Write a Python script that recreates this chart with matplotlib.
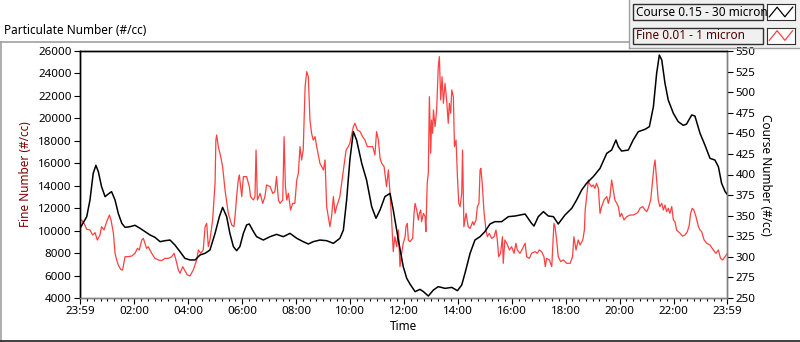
import numpy as np
import matplotlib.pyplot as plt
from matplotlib.patches import Rectangle
from matplotlib.lines import Line2D

# hours elapsed since the 23:59 start of the record
course_hours = [
    0.00, 0.25, 0.37, 0.49, 0.59, 0.68, 0.80, 0.93, 1.05, 1.17, 1.30, 1.42,
    1.55, 1.67, 1.85, 2.04, 2.23, 2.41, 2.60, 2.78, 2.97, 3.15, 3.34, 3.52,
    3.71, 3.89, 4.08, 4.27, 4.45, 4.64, 4.82, 5.01, 5.17, 5.29, 5.44, 5.56,
    5.69, 5.81, 5.93, 6.06, 6.18, 6.28, 6.40, 6.55, 6.80, 7.05, 7.29, 7.54,
    7.79, 8.04, 8.28, 8.47, 8.65, 8.90, 9.15, 9.40, 9.64, 9.77, 9.89, 10.01,
    10.14, 10.26, 10.45, 10.63, 10.82, 10.98, 11.13, 11.31, 11.50, 11.62,
    11.81, 11.99, 12.12, 12.24, 12.43, 12.61, 12.74, 12.92, 13.11, 13.29,
    13.54, 13.79, 14.00, 14.16, 14.28, 14.47, 14.65, 14.84, 15.02, 15.21,
    15.39, 15.64, 15.89, 16.14, 16.51, 16.75, 16.84, 17.00, 17.19, 17.37,
    17.56, 17.74, 17.99, 18.24, 18.42, 18.61, 18.79, 19.04, 19.29, 19.54,
    19.72, 19.88, 19.97, 20.09, 20.34, 20.52, 20.71, 20.96, 21.12, 21.27,
    21.39, 21.49, 21.58, 21.70, 21.82, 22.01, 22.19, 22.38, 22.50, 22.69,
    22.81, 23.00, 23.18, 23.37, 23.55, 23.68, 23.80, 23.93, 24.00,
]
course_counts = [
    334.6, 348.8, 369.0, 401.4, 411.1, 403.4, 385.2, 373.1, 376.3, 379.2,
    369.0, 352.8, 340.7, 335.8, 336.6, 338.3, 334.6, 330.6, 326.5, 323.7,
    318.4, 319.6, 320.4, 314.4, 306.3, 298.2, 296.2, 296.2, 302.2, 304.3,
    308.3, 328.5, 348.8, 360.1, 348.8, 328.5, 312.4, 307.5, 312.4, 328.5,
    338.7, 339.9, 332.6, 324.5, 320.4, 324.5, 327.3, 324.5, 328.5, 322.5,
    318.4, 315.6, 318.4, 320.4, 319.6, 316.4, 322.5, 332.6, 369.0, 417.6,
    452.0, 441.9, 413.6, 393.3, 360.9, 346.8, 356.9, 373.1, 377.1, 356.9,
    320.4, 288.1, 273.9, 267.0, 257.7, 260.5, 257.7, 252.4, 259.7, 263.8,
    261.7, 262.9, 258.9, 265.8, 280.0, 304.3, 320.4, 324.5, 330.6, 339.9,
    342.7, 342.7, 348.8, 349.6, 352.0, 340.7, 337.4, 348.8, 354.9, 349.6,
    348.8, 339.9, 350.8, 358.9, 369.0, 381.2, 389.3, 397.4, 407.5, 425.7,
    429.7, 441.9, 433.8, 428.5, 429.7, 441.9, 452.0, 454.9, 458.1, 482.4,
    522.9, 545.1, 539.1, 510.7, 490.5, 474.3, 464.2, 459.7, 461.3, 472.3,
    471.0, 450.0, 435.8, 419.6, 417.6, 409.5, 389.3, 379.2, 376.3,
]

fine_hours = [
    0.00, 0.06, 0.15, 0.25, 0.37, 0.47, 0.56, 0.64, 0.74, 0.80, 0.89, 0.99,
    1.09, 1.15, 1.24, 1.30, 1.36, 1.42, 1.51, 1.58, 1.67, 1.79, 1.92, 2.04,
    2.13, 2.20, 2.29, 2.35, 2.41, 2.47, 2.53, 2.66, 2.78, 2.91, 3.03, 3.15,
    3.28, 3.40, 3.49, 3.56, 3.65, 3.71, 3.81, 3.89, 3.98, 4.08, 4.20, 4.33,
    4.39, 4.48, 4.57, 4.64, 4.70, 4.76, 4.82, 4.92, 4.97, 5.01, 5.04, 5.07,
    5.13, 5.22, 5.29, 5.38, 5.50, 5.63, 5.71, 5.75, 5.81, 5.87, 5.91, 5.96,
    6.00, 6.06, 6.18, 6.28, 6.33, 6.43, 6.49, 6.53, 6.58, 6.68, 6.78, 6.86,
    6.92, 7.05, 7.15, 7.23, 7.29, 7.36, 7.42, 7.52, 7.57, 7.62, 7.67, 7.73,
    7.81, 7.89, 7.97, 8.04, 8.10, 8.16, 8.22, 8.28, 8.35, 8.41, 8.47, 8.53,
    8.59, 8.65, 8.72, 8.78, 8.90, 9.03, 9.09, 9.15, 9.21, 9.27, 9.33, 9.40,
    9.46, 9.52, 9.58, 9.64, 9.77, 9.87, 9.95, 10.01, 10.14, 10.20, 10.29,
    10.39, 10.48, 10.57, 10.66, 10.76, 10.86, 10.94, 11.00, 11.07, 11.13,
    11.19, 11.28, 11.37, 11.44, 11.50, 11.56, 11.62, 11.68, 11.75, 11.81,
    11.87, 11.93, 11.99, 12.06, 12.09, 12.14, 12.18, 12.24, 12.34, 12.39,
    12.43, 12.49, 12.55, 12.59, 12.64, 12.67, 12.74, 12.80, 12.83, 12.88,
    12.92, 12.96, 13.01, 13.04, 13.08, 13.11, 13.17, 13.23, 13.29, 13.33,
    13.38, 13.43, 13.48, 13.54, 13.60, 13.66, 13.70, 13.75, 13.79, 13.85,
    13.89, 13.95, 14.00, 14.05, 14.10, 14.16, 14.19, 14.24, 14.32, 14.40,
    14.47, 14.57, 14.61, 14.69, 14.74, 14.80, 14.84, 14.87, 14.92, 14.99,
    15.06, 15.11, 15.18, 15.27, 15.36, 15.43, 15.48, 15.53, 15.60, 15.67,
    15.70, 15.76, 15.83, 15.93, 16.01, 16.10, 16.17, 16.22, 16.32, 16.42,
    16.51, 16.57, 16.67, 16.75, 16.88, 16.96, 17.04, 17.12, 17.21, 17.26,
    17.31, 17.41, 17.50, 17.58, 17.62, 17.68, 17.74, 17.83, 17.93, 18.05,
    18.18, 18.27, 18.32, 18.40, 18.48, 18.55, 18.65, 18.71, 18.74, 18.82,
    18.86, 18.89, 18.98, 19.04, 19.10, 19.16, 19.23, 19.29, 19.35, 19.44,
    19.54, 19.60, 19.66, 19.72, 19.78, 19.84, 19.91, 19.97, 20.03, 20.09,
    20.18, 20.28, 20.40, 20.52, 20.65, 20.71, 20.77, 20.87, 20.96, 21.02,
    21.08, 21.17, 21.24, 21.29, 21.33, 21.37, 21.42, 21.45, 21.51, 21.58,
    21.64, 21.70, 21.76, 21.82, 21.88, 21.95, 22.01, 22.07, 22.13, 22.26,
    22.35, 22.44, 22.53, 22.60, 22.65, 22.71, 22.77, 22.85, 22.94, 23.00,
    23.06, 23.15, 23.25, 23.37, 23.49, 23.59, 23.68, 23.76, 23.84, 23.93,
    24.00,
]
fine_counts = [
    10800, 10950, 10650, 10120, 10060, 9610, 9820, 9170, 9610, 10350, 10060,
    10800, 11390, 10950, 9760, 7980, 7390, 6940, 6550, 6490, 7680, 7680,
    7740, 7980, 8420, 8280, 9170, 9310, 8870, 8420, 8570, 7980, 7530, 7390,
    7330, 7530, 7530, 7680, 7980, 7390, 6490, 6200, 6790, 6440, 6050, 5960,
    6490, 7390, 8280, 7980, 8280, 10350, 10650, 8570, 9170, 10950, 12730,
    14210, 18070, 18520, 17480, 16590, 15700, 13620, 11540, 10500, 10350,
    11240, 13030, 14510, 14960, 13920, 13030, 14810, 14810, 13920, 13030,
    12730, 13030, 17180, 12730, 13320, 12430, 13030, 14070, 13920, 13320,
    13470, 14810, 12730, 12430, 12730, 18370, 13920, 12730, 13320, 11840,
    12430, 12430, 14510, 15100, 17480, 16290, 17180, 22820, 24160, 23710,
    19850, 18670, 18070, 18370, 17480, 16000, 15400, 16290, 12140, 11240,
    10350, 11240, 13030, 11540, 12140, 12580, 13030, 15400, 17180, 17480,
    17780, 19260, 19560, 18960, 18820, 18370, 18070, 17480, 17480, 17480,
    16740, 18820, 18070, 16440, 16000, 15700, 13920, 15400, 13320, 10950,
    8130, 9460, 8570, 10060, 6790, 7980, 8870, 9460, 10350, 10650, 9170,
    9020, 9310, 11540, 12430, 11840, 10950, 11540, 11840, 10800, 11540,
    11240, 9910, 14210, 15100, 21930, 16890, 19850, 18670, 20750, 19260,
    20750, 24600, 25500, 21640, 23710, 21340, 23120, 21640, 19560, 21340,
    20450, 22530, 21930, 17480, 18070, 14810, 12430, 12140, 13320, 17180,
    10350, 11540, 10350, 10200, 10800, 10500, 10950, 12140, 12430, 15400,
    15550, 14210, 11540, 10060, 9460, 9760, 9310, 9460, 10060, 9170, 7680,
    7980, 9460, 7090, 9170, 8870, 8280, 8570, 7980, 8870, 8280, 7980, 8420,
    8870, 7680, 7530, 7980, 8130, 7980, 8280, 8130, 7680, 6790, 7530, 7390,
    6790, 10650, 10350, 9170, 7680, 7240, 7390, 7090, 7090, 7680, 9460, 8280,
    9170, 8720, 9170, 10060, 11840, 13620, 14510, 14210, 13920, 14070, 13770,
    14210, 13770, 11540, 12140, 12730, 13030, 12430, 13030, 14510, 13620,
    12730, 12430, 12140, 11240, 11540, 10950, 11240, 11390, 11390, 11540,
    11690, 11990, 12140, 11840, 11690, 11990, 12730, 14510, 15700, 16290,
    15100, 13620, 12730, 12140, 12430, 11840, 12280, 11690, 11990, 11540,
    12140, 10950, 10800, 10060, 9760, 9520, 9610, 9910, 10500, 11540, 11990,
    11840, 11240, 10350, 10060, 9910, 9170, 8870, 8720, 8280, 7980, 8280,
    7530, 7390, 7680, 7920,
]

tick_labels = ["23:59", "02:00", "04:00", "06:00", "08:00", "10:00", "12:00",
               "14:00", "16:00", "18:00", "20:00", "22:00", "23:59"]
legend_labels = ["Course 0.15 - 30 micron", "Fine 0.01 - 1 micron"]

W, H = 800, 342


def fx(px):
    return px / W


def fy(py):
    return 1 - py / H


plt.rcParams["font.family"] = ["Noto Sans", "DejaVu Sans"]
plt.rcParams["font.size"] = 8

fig = plt.figure(figsize=(8, 3.42), dpi=100)

# panel decoration
fig.add_artist(Line2D([fx(0), fx(629)], [fy(42), fy(42)], color="#a0a0a0", lw=1.2))
fig.add_artist(Line2D([fx(0.5), fx(0.5)], [fy(42), fy(341)], color="#a0a0a0", lw=1.2))
fig.add_artist(Line2D([fx(0), fx(800)], [fy(341), fy(341)], color="#202020", lw=1.2))
fig.text(fx(4), fy(31), "Particulate Number (#/cc)", ha="left", va="center", fontsize=8.5)

# main plot
ax = fig.add_axes([fx(80), fy(298), fx(727) - fx(80), fy(51) - fy(298)])
ax2 = ax.twinx()

ax.plot(fine_hours, fine_counts, color="#ff4040", lw=0.9, zorder=2)
ax2.plot(course_hours, course_counts, color="black", lw=1.1, zorder=3)

ax.set_xlim(0, 24)
ax.set_ylim(4000, 26000)
ax2.set_ylim(250, 550)
ax.set_yticks(np.arange(4000, 26001, 2000))
ax2.set_yticks(np.arange(250, 551, 25))

tick_pos = [0] + [h + 1 / 60 for h in range(2, 23, 2)] + [24]
ax.set_xticks(tick_pos)
ax.set_xticklabels(tick_labels)
ax.set_xticks([1 / 60 + 0.25 * k for k in range(1, 96)], minor=True)

for a in (ax, ax2):
    a.spines["top"].set_color("black")
    a.spines["left"].set_color("black")
    a.spines["right"].set_color("#808080")
    a.spines["bottom"].set_color("#808080")
    for s in a.spines.values():
        s.set_linewidth(1.0)

ax.tick_params(axis="both", which="major", length=4, width=0.8, pad=2, labelsize=8.3)
ax.tick_params(axis="x", which="minor", length=2.5, width=0.8)
ax2.tick_params(axis="y", length=4, width=0.8, pad=2, labelsize=8.3)

ax.set_xlabel("Time", fontsize=8.5, labelpad=2)
ax.set_ylabel("Fine Number (#/cc)", fontsize=8.5, color="#800000", labelpad=4)
ax2.set_ylabel("Course Number (#/cc)", fontsize=8.5, rotation=270, labelpad=12)

# legend panel
fig.add_artist(Rectangle((fx(629), fy(48)), fx(171), 48 / H, facecolor="#f0f0f0",
                         edgecolor="none", transform=fig.transFigure, zorder=-1))
fig.add_artist(Line2D([fx(629), fx(629)], [fy(0), fy(48)], color="#a0a0a0", lw=1))
fig.add_artist(Line2D([fx(629), fx(800)], [fy(48), fy(48)], color="#a0a0a0", lw=1))

colors = ["black", "#ff4040"]
text_colors = ["black", "#500000"]
for i, (label, c, tc) in enumerate(zip(legend_labels, colors, text_colors)):
    top = 4 + i * 23.5
    bot = top + 16
    fig.add_artist(Rectangle((fx(633), fy(bot)), fx(130), (bot - top) / H,
                             facecolor="#f0f0f0", edgecolor="#303030", lw=1,
                             transform=fig.transFigure))
    fig.text(fx(636), fy((top + bot) / 2), label, ha="left", va="center",
             fontsize=8.5, color=tc)
    sw = fig.add_axes([fx(767), fy(bot), fx(28), (bot - top) / H])
    sw.set_zorder(5)
    sw.set_facecolor("white")
    sw.plot([0, 1, 2, 3], [0.2, 0.8, 0.2, 0.8], color=c, lw=0.9)
    sw.set_xlim(-0.3, 3.3)
    sw.set_ylim(0, 1)
    sw.set_xticks([])
    sw.set_yticks([])
    for s in sw.spines.values():
        s.set_color("#303030")

fig.savefig("out.png", dpi=100)
